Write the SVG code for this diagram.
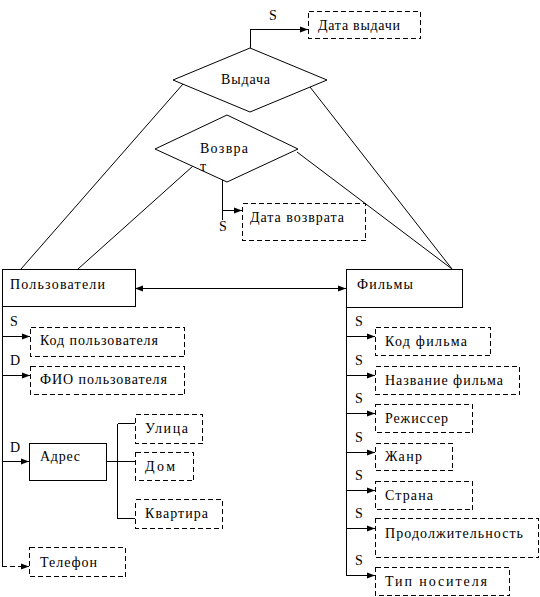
<svg xmlns="http://www.w3.org/2000/svg" width="540" height="597" viewBox="0 0 540 597">
<style>
text{font-family:"Liberation Serif","Times New Roman",serif;font-size:14px;fill:#000}
.b{fill:#fff;stroke:#000;stroke-width:1}
rect.b,.d{shape-rendering:crispEdges}
.d{fill:#fff;stroke:#000;stroke-width:1;stroke-dasharray:5 3}
.c{fill:none;stroke:#000;stroke-width:1}
.o{shape-rendering:crispEdges}
.a{marker-end:url(#ah)}
</style>
<defs>
<marker id="ah" viewBox="0 0 8 8" refX="8" refY="4" markerWidth="8" markerHeight="8" markerUnits="userSpaceOnUse" orient="auto-start-reverse">
<path d="M0,1 L8,4 L0,7 Z" fill="#000"/>
</marker>
</defs>
<rect width="540" height="597" fill="#fff"/>
<g id="connectors">
<line class="c" x1="183" y1="84" x2="21" y2="269"/>
<line class="c" x1="193" y1="166" x2="78" y2="269"/>
<line class="c" x1="310" y1="87" x2="452" y2="269"/>
<line class="c" x1="297" y1="152" x2="452" y2="269"/>
<path class="c o a" d="M250.5,48 V29.5 H308"/>
<path class="c o" d="M222.5,180 V220"/>
<path class="c o a" d="M222,210.5 H242"/>
<line class="c o a" x1="135" y1="288.5" x2="346" y2="288.5" style="marker-start:url(#ah)"/>
<path class="c o" d="M2.5,306 V566.5"/>
<path class="c o a" d="M2,336.5 H30"/>
<path class="c o a" d="M2,375.5 H30"/>
<path class="c o a" d="M2,461.5 H29"/>
<path class="c o a" d="M2,566.5 H29" stroke-dasharray="5 3"/>
<path class="c o" d="M106,461.5 H135 M117.5,423.5 V518.5 M117.5,423.5 H135 M117.5,518.5 H135"/>
<path class="c o" d="M346.5,307 V575.5"/>
<path class="c o a" d="M346,336.5 H375"/>
<path class="c o a" d="M346,375.5 H375"/>
<path class="c o a" d="M346,413.5 H375"/>
<path class="c o a" d="M346,452.5 H375"/>
<path class="c o a" d="M346,490.5 H375"/>
<path class="c o a" d="M346,528.5 H375"/>
<path class="c o a" d="M346,575.5 H375"/>
<text x="269" y="20">S</text>
<text x="219" y="231">S</text>
<text x="10" y="326">S</text>
<text x="10" y="365">D</text>
<text x="10" y="452">D</text>
<text x="355" y="326">S</text>
<text x="355" y="365">S</text>
<text x="355" y="403">S</text>
<text x="355" y="442">S</text>
<text x="355" y="480">S</text>
<text x="355" y="518">S</text>
<text x="355" y="565">S</text>
</g>
<g id="vydacha">
<polygon class="b" points="250,48 327,80 250,112 173,80"/>
<text x="221" y="84" textLength="49" lengthAdjust="spacing">Выдача</text>
</g>
<g id="vozvrat">
<polygon class="b" points="227,115 298,149 227,182 155,149"/>
<text x="200" y="153" textLength="48" lengthAdjust="spacing">Возвра</text>
<text x="200" y="171">т</text>
</g>
<g id="data-vydachi">
<rect class="d" x="308.5" y="11.5" width="112" height="27"/>
<text x="318" y="30" textLength="82" lengthAdjust="spacing">Дата выдачи</text>
</g>
<g id="data-vozvrata">
<rect class="d" x="242.5" y="203.5" width="123" height="37"/>
<text x="250" y="222" textLength="94" lengthAdjust="spacing">Дата возврата</text>
</g>
<g id="polzovateli">
<rect class="b" x="2.5" y="269.5" width="133" height="37"/>
<text x="10" y="289" textLength="95" lengthAdjust="spacing">Пользователи</text>
</g>
<g id="kod-polzovatelya">
<rect class="d" x="30.5" y="327.5" width="154" height="29"/>
<text x="40" y="345" textLength="118" lengthAdjust="spacing">Код пользователя</text>
</g>
<g id="fio">
<rect class="d" x="30.5" y="366.5" width="154" height="28"/>
<text x="40" y="384" textLength="127" lengthAdjust="spacing">ФИО пользователя</text>
</g>
<g id="adres">
<rect class="b" x="29.5" y="443.5" width="77" height="37"/>
<text x="40" y="461" textLength="40" lengthAdjust="spacing">Адрес</text>
</g>
<g id="ulitsa">
<rect class="d" x="135.5" y="414.5" width="67" height="29"/>
<text x="145" y="433" textLength="43" lengthAdjust="spacing">Улица</text>
</g>
<g id="dom">
<rect class="d" x="135.5" y="452.5" width="58" height="28"/>
<text x="145" y="471" textLength="30" lengthAdjust="spacing">Дом</text>
</g>
<g id="kvartira">
<rect class="d" x="135.5" y="499.5" width="87" height="29"/>
<text x="145" y="518" textLength="63" lengthAdjust="spacing">Квартира</text>
</g>
<g id="telefon">
<rect class="d" x="29.5" y="547.5" width="96" height="29"/>
<text x="40" y="567" textLength="57" lengthAdjust="spacing">Телефон</text>
</g>
<g id="filmy">
<rect class="b" x="346.5" y="269.5" width="116" height="38"/>
<text x="357" y="289" textLength="56" lengthAdjust="spacing">Фильмы</text>
</g>
<g id="kod-filma">
<rect class="d" x="375.5" y="327.5" width="115" height="28"/>
<text x="385" y="346" textLength="82" lengthAdjust="spacing">Код фильма</text>
</g>
<g id="nazvanie">
<rect class="d" x="375.5" y="366.5" width="144" height="28"/>
<text x="385" y="385" textLength="118" lengthAdjust="spacing">Название фильма</text>
</g>
<g id="rezhisser">
<rect class="d" x="375.5" y="404.5" width="97" height="28"/>
<text x="385" y="423" textLength="63" lengthAdjust="spacing">Режиссер</text>
</g>
<g id="zhanr">
<rect class="d" x="375.5" y="443.5" width="77" height="27"/>
<text x="385" y="461" textLength="37" lengthAdjust="spacing">Жанр</text>
</g>
<g id="strana">
<rect class="d" x="375.5" y="481.5" width="97" height="28"/>
<text x="385" y="500" textLength="48" lengthAdjust="spacing">Страна</text>
</g>
<g id="prodolzhitelnost">
<rect class="d" x="375.5" y="518.5" width="163" height="39"/>
<text x="385" y="538" textLength="138" lengthAdjust="spacing">Продолжительность</text>
</g>
<g id="tip-nositelya">
<rect class="d" x="375.5" y="567.5" width="134" height="28"/>
<text x="385" y="586" textLength="102" lengthAdjust="spacing">Тип носителя</text>
</g>
</svg>
